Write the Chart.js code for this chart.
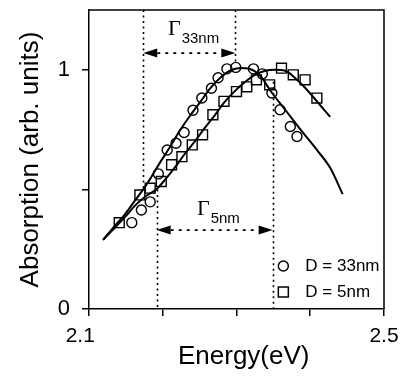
<!DOCTYPE html>
<html><head><meta charset="utf-8">
<script src="https://cdn.jsdelivr.net/npm/chart.js@4"></script>
<style>html,body{margin:0;padding:0;background:#fff}#wrap{width:407px;height:376px}</style>
</head><body><div id="wrap"><canvas id="c" width="407" height="376"></canvas></div>
<script>
// ---- data ----
const xTicks = [2.1, 2.2, 2.3, 2.4, 2.5];
const xTickLabels = ['2.1   ', '', '', '', '2.5'];
const yTicks = [0, 0.5, 1];
const yTickLabels = ['0', '', '1'];

// D = 33nm measured points (circles)
const circX = [2.158,2.171,2.183,2.194,2.206,2.218,2.229,2.241,2.253,2.266,2.275,2.287,2.299,2.323,2.335,2.348,2.359,2.373,2.382];
const circY = [0.361,0.414,0.448,0.565,0.665,0.693,0.738,0.831,0.882,0.923,0.967,1.004,1.010,1.004,0.983,0.903,0.833,0.763,0.721];
// D = 5nm measured points (squares)
const sqX = [2.141,2.169,2.183,2.198,2.212,2.226,2.240,2.254,2.268,2.283,2.300,2.314,2.327,2.345,2.361,2.377,2.393,2.409];
const sqY = [0.361,0.477,0.505,0.533,0.603,0.637,0.686,0.728,0.812,0.868,0.909,0.929,0.958,0.937,1.007,0.979,0.958,0.882];
// fitted curves
const fit33X = [2.119,2.135,2.149,2.162,2.173,2.183,2.196,2.210,2.223,2.237,2.251,2.264,2.278,2.291,2.305,2.318,2.332,2.348,2.366,2.386,2.409,2.427,2.444];
const fit33Y = [0.289,0.347,0.397,0.452,0.498,0.544,0.611,0.678,0.745,0.808,0.866,0.921,0.967,0.996,1.008,1.004,0.975,0.904,0.833,0.753,0.665,0.590,0.480];
const fit5X = [2.119,2.135,2.149,2.162,2.176,2.192,2.203,2.217,2.230,2.244,2.257,2.271,2.284,2.298,2.312,2.325,2.339,2.352,2.366,2.379,2.393,2.406,2.427];
const fit5Y = [0.289,0.339,0.385,0.431,0.469,0.502,0.540,0.594,0.649,0.703,0.757,0.812,0.866,0.912,0.950,0.979,0.996,1.000,0.996,0.967,0.925,0.879,0.803];

// linewidth markers (Gamma)
const gamma33 = {x1: 2.1736, x2: 2.2984, y1Bottom: 0.50, y2Bottom: 1.03, arrowY: 1.07, labelX: 2.207, labelY: 1.146, sub: '33nm'};
const gamma5  = {x1: 2.1918, x2: 2.349,  y1Top: 0.50, y2Top: 0.95, arrowY: 0.33, labelX: 2.2464, labelY: 0.393, sub: '5nm'};

// legend
const legendLabels = ['D = 33nm', 'D = 5nm'];
const legendX = 2.3635;
const legendY = [0.18, 0.071];

const pts = (xs, ys) => xs.map((v, i) => ({x: v, y: ys[i]}));
const SANS = 'Liberation Sans, Arial, sans-serif';

function arrowHead(ctx, xTip, y, dir) {
  ctx.beginPath();
  ctx.moveTo(xTip, y);
  ctx.lineTo(xTip - dir * 14, y - 4.5);
  ctx.lineTo(xTip - dir * 14, y + 4.5);
  ctx.closePath();
  ctx.fill();
}

const annot = {
  id: 'annot',
  afterDatasetsDraw(chart) {
    const {ctx, chartArea: a, scales: {x, y}} = chart;
    ctx.save();
    ctx.strokeStyle = '#000'; ctx.fillStyle = '#000';
    // frame top/right
    ctx.lineWidth = 1.5;
    ctx.beginPath();
    ctx.moveTo(a.left, a.top); ctx.lineTo(a.right, a.top); ctx.lineTo(a.right, a.bottom);
    ctx.stroke();
    // vertical dotted lines
    ctx.lineWidth = 1.6;
    ctx.setLineDash([2, 3.5]);
    const vline = (xv, yTopPx, yBotPx) => {
      const px = Math.round(x.getPixelForValue(xv)) + 0.5;
      ctx.beginPath(); ctx.moveTo(px, yTopPx); ctx.lineTo(px, yBotPx); ctx.stroke();
    };
    vline(gamma33.x1, a.top, y.getPixelForValue(gamma33.y1Bottom));
    vline(gamma33.x2, a.top, y.getPixelForValue(gamma33.y2Bottom));
    vline(gamma5.x1, y.getPixelForValue(gamma5.y1Top), a.bottom);
    vline(gamma5.x2, y.getPixelForValue(gamma5.y2Top), a.bottom);
    // arrows
    const arrow = (g) => {
      const x1 = x.getPixelForValue(g.x1), x2 = x.getPixelForValue(g.x2), py = y.getPixelForValue(g.arrowY);
      ctx.setLineDash([3, 5]); ctx.lineWidth = 1.8;
      ctx.beginPath(); ctx.moveTo(x1 + 14, py); ctx.lineTo(x2 - 14, py); ctx.stroke();
      ctx.setLineDash([]);
      arrowHead(ctx, x1, py, -1);
      arrowHead(ctx, x2, py, 1);
    };
    arrow(gamma33); arrow(gamma5);
    // labels
    ctx.setLineDash([]);
    ctx.textBaseline = 'alphabetic'; ctx.textAlign = 'left';
    const label = (g) => {
      const px = x.getPixelForValue(g.labelX), py = y.getPixelForValue(g.labelY);
      ctx.font = '22px "Liberation Serif", "Times New Roman", serif';
      ctx.fillText('\u0393', px, py);
      const w = ctx.measureText('\u0393').width;
      ctx.font = '15px ' + SANS;
      ctx.fillText(g.sub, px + w + 1, py + 8);
    };
    label(gamma33); label(gamma5);
    // legend
    const lx = x.getPixelForValue(legendX);
    ctx.lineWidth = 1.5;
    legendLabels.forEach((t, i) => {
      const ly = y.getPixelForValue(legendY[i]);
      ctx.beginPath();
      if (i === 0) { ctx.arc(lx, ly, 5, 0, Math.PI * 2); }
      else { ctx.rect(lx - 5, ly - 5, 10, 10); }
      ctx.stroke();
      ctx.font = '17px ' + SANS;
      ctx.textBaseline = 'middle';
      ctx.fillText(t, lx + 22, ly);
    });
    ctx.restore();
  }
};

new Chart(document.getElementById('c'), {
  type: 'scatter',
  data: {
    datasets: [
      {label: 'fit33', data: pts(fit33X, fit33Y), showLine: true, borderColor: '#000', borderWidth: 2, pointRadius: 0, tension: 0.4, cubicInterpolationMode: 'monotone'},
      {label: 'fit5', data: pts(fit5X, fit5Y), showLine: true, borderColor: '#000', borderWidth: 2, pointRadius: 0, tension: 0.4, cubicInterpolationMode: 'monotone'},
      {label: 'D = 33nm', data: pts(circX, circY), pointStyle: 'circle', pointRadius: 5, borderColor: '#000', borderWidth: 1.4, backgroundColor: 'rgba(0,0,0,0)'},
      {label: 'D = 5nm', data: pts(sqX, sqY), pointStyle: 'rect', pointRadius: 7, borderColor: '#000', borderWidth: 1.4, backgroundColor: 'rgba(0,0,0,0)'}
    ]
  },
  options: {
    responsive: false, animation: false, devicePixelRatio: 1,
    layout: {padding: {left: 0, right: 23, top: 10, bottom: 0}},
    plugins: {legend: {display: false}, tooltip: {enabled: false}},
    scales: {
      x: {
        type: 'linear', min: 2.1, max: 2.5,
        afterBuildTicks: s => { s.ticks = xTicks.map(v => ({value: v})); },
        afterFit: s => { s.height = 67; s.paddingLeft = 0; s.paddingRight = 0; },
        ticks: {callback: (v, i) => xTickLabels[i], autoSkip: false, maxRotation: 0, padding: 8, color: '#000', font: {family: SANS, size: 21}},
        grid: {drawOnChartArea: false, tickLength: 7, color: '#000', lineWidth: 1.5},
        border: {color: '#000', width: 1.5},
        title: {display: true, text: '  Energy(eV)', color: '#000', font: {family: SANS, size: 26}, padding: {top: 0, bottom: 4}}
      },
      y: {
        type: 'linear', min: 0, max: 1.25,
        afterBuildTicks: s => { s.ticks = yTicks.map(v => ({value: v})); },
        afterFit: s => { s.width = 89; s.paddingTop = 0; s.paddingBottom = 0; },
        ticks: {callback: (v, i) => yTickLabels[i], autoSkip: false, padding: 12, color: '#000', font: {family: SANS, size: 22}},
        grid: {drawOnChartArea: false, tickLength: 7, color: '#000', lineWidth: 1.5},
        border: {color: '#000', width: 1.5},
        title: {display: true, text: 'Absorption (arb. units)', color: '#000', font: {family: SANS, size: 26}, padding: {top: 15, bottom: 0}}
      }
    }
  },
  plugins: [annot]
});
</script>
</body></html>
